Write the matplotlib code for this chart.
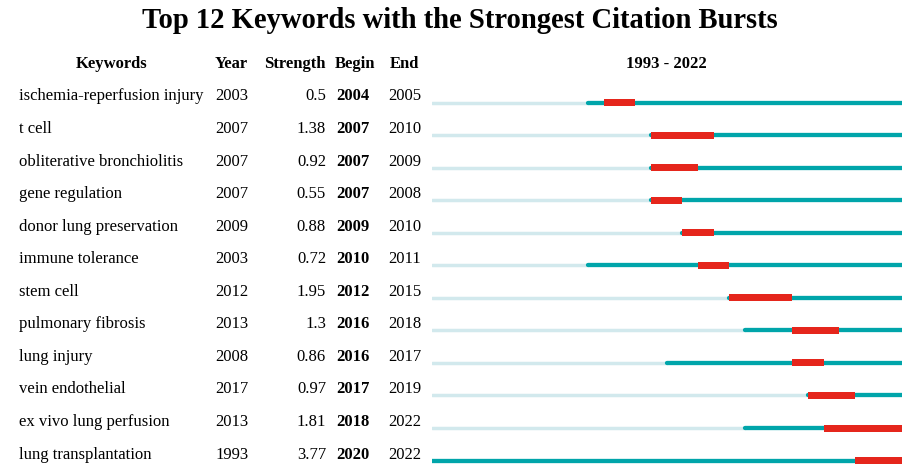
import matplotlib
matplotlib.use("Agg")
import matplotlib.pyplot as plt

keywords = [
    "ischemia-reperfusion injury", "t cell", "obliterative bronchiolitis",
    "gene regulation", "donor lung preservation", "immune tolerance",
    "stem cell", "pulmonary fibrosis", "lung injury", "vein endothelial",
    "ex vivo lung perfusion", "lung transplantation",
]
years = [2003, 2007, 2007, 2007, 2009, 2003, 2012, 2013, 2008, 2017, 2013, 1993]
strengths = ["0.5", "1.38", "0.92", "0.55", "0.88", "0.72", "1.95", "1.3",
             "0.86", "0.97", "1.81", "3.77"]
begins = [2004, 2007, 2007, 2007, 2009, 2010, 2012, 2016, 2016, 2017, 2018, 2020]
ends = [2005, 2010, 2009, 2008, 2010, 2011, 2015, 2018, 2017, 2019, 2022, 2022]
first_year, last_year = 1993, 2022

plt.rcParams["font.family"] = ["Liberation Serif", "DejaVu Serif"]

fig = plt.figure(figsize=(9.18, 4.76), dpi=100)
ax = fig.add_axes([0, 0, 1, 1])
ax.set_xlim(0, 918)
ax.set_ylim(476, 0)
ax.axis("off")

# timeline axes, x in years
tl = fig.add_axes([431.5 / 918, 0, 470.5 / 918, 1])
tl.set_xlim(first_year, last_year + 1)
tl.set_ylim(476, 0)
tl.axis("off")

light = "#d2e9ed"
teal = "#00a5aa"
red = "#e5261c"
fs = 12

ax.text(460, 20, "Top 12 Keywords with the Strongest Citation Bursts",
        ha="center", va="center", fontsize=20.6, fontweight="bold")

hy = 64
ax.text(112, hy, "Keywords", ha="center", va="center", fontsize=fs, fontweight="bold")
ax.text(215, hy, "Year", ha="left", va="center", fontsize=fs, fontweight="bold")
ax.text(326, hy, "Strength", ha="right", va="center", fontsize=fs, fontweight="bold")
ax.text(335, hy, "Begin", ha="left", va="center", fontsize=fs, fontweight="bold")
ax.text(390, hy, "End", ha="left", va="center", fontsize=fs, fontweight="bold")
ax.text(666, hy, f"{first_year} - {last_year}", ha="center", va="center",
        fontsize=fs, fontweight="bold")

for i, kw in enumerate(keywords):
    ty = 96.5 + 32.55 * i
    ax.text(19, ty, kw, ha="left", va="center", fontsize=fs)
    ax.text(215, ty, str(years[i]), ha="left", va="center", fontsize=fs)
    ax.text(326, ty, strengths[i], ha="right", va="center", fontsize=fs)
    ax.text(336, ty, str(begins[i]), ha="left", va="center", fontsize=fs, fontweight="bold")
    ax.text(388, ty, str(ends[i]), ha="left", va="center", fontsize=fs)

    by = ty + 6
    if years[i] > first_year:
        tl.hlines(by, first_year, years[i], color=light, lw=2.5, capstyle="round")
    tl.hlines(by, years[i], last_year + 1, color=teal, lw=3.1, capstyle="round")
    tl.barh(by, ends[i] + 1 - begins[i], left=begins[i], height=7, color=red, zorder=3)

fig.savefig("out.png", dpi=100)
